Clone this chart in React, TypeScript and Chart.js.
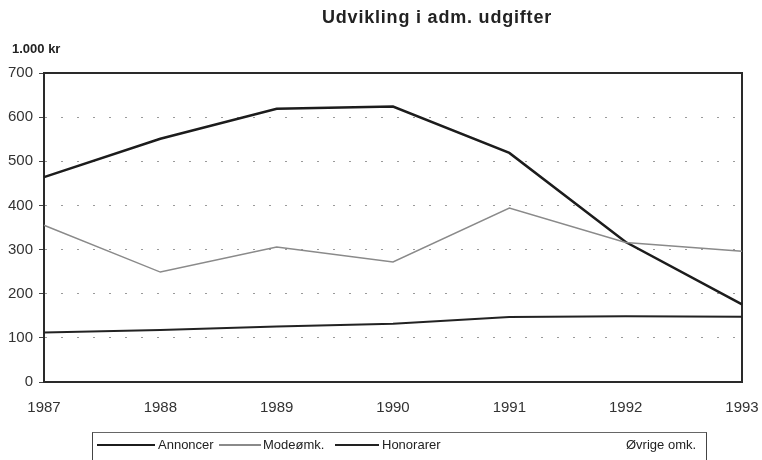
import React, { useEffect, useRef } from "react";
import { Chart, registerables } from "chart.js";

Chart.register(...registerables);

const years = ["1987", "1988", "1989", "1990", "1991", "1992", "1993"];
const annoncer = [464, 551, 619, 624, 519, 317, 176];
const modeomk = [355, 249, 306, 272, 394, 316, 296];
const honorarer = [112, 118, 126, 132, 147, 149, 148];
const ovrige = [0, 0, 0, 0, 0, 0, 0];
const seriesNames = ["Annoncer", "Modeømk.", "Honorarer", "Øvrige omk."];
const titleText = "Udvikling i adm. udgifter";
const unitText = "1.000 kr";
const yMin = 0;
const yMax = 700;
const yStep = 100;

const FONT = "'Liberation Sans', Arial, Helvetica, sans-serif";

const framePlugin = {
  id: "frame",
  beforeDatasetsDraw(chart: any) {
    const { ctx, chartArea } = chart;
    ctx.save();
    ctx.strokeStyle = "#2a2a2a";
    ctx.lineWidth = 2;
    ctx.beginPath();
    ctx.moveTo(chartArea.left, chartArea.top);
    ctx.lineTo(chartArea.right, chartArea.top);
    ctx.lineTo(chartArea.right, chartArea.bottom);
    ctx.stroke();
    ctx.restore();
  },
};

export default function App() {
  const ref = useRef<HTMLCanvasElement | null>(null);

  useEffect(() => {
    if (!ref.current) return;
    const chart = new Chart(ref.current, {
      type: "line",
      data: {
        labels: years,
        datasets: [
          {
            label: seriesNames[3],
            data: ovrige,
            borderColor: "rgba(0,0,0,0)",
            borderWidth: 1,
            pointRadius: 0,
          },
          {
            label: seriesNames[2],
            data: honorarer,
            borderColor: "#222222",
            borderWidth: 2,
            pointRadius: 0,
            tension: 0,
          },
          {
            label: seriesNames[1],
            data: modeomk,
            borderColor: "#8a8a8a",
            borderWidth: 1.5,
            pointRadius: 0,
            tension: 0,
          },
          {
            label: seriesNames[0],
            data: annoncer,
            borderColor: "#1c1c1c",
            borderWidth: 2.5,
            pointRadius: 0,
            tension: 0,
          },
        ],
      },
      options: {
        animation: false,
        responsive: false,
        devicePixelRatio: 1,
        layout: { padding: { left: 0, right: 20, top: 73, bottom: 48 } },
        plugins: {
          legend: { display: false },
          title: { display: false },
          tooltip: { enabled: false },
        },
        scales: {
          x: {
            type: "category",
            offset: false,
            grid: { display: false, drawTicks: false },
            border: { display: true, color: "#2a2a2a", width: 2 },
            ticks: {
              color: "#333",
              font: { family: FONT, size: 15 },
              padding: 17,
              maxRotation: 0,
              autoSkip: false,
            },
            afterFit: (s: any) => {
              s.height = 30;
              s.paddingLeft = 0;
              s.paddingRight = 0;
            },
          },
          y: {
            min: yMin,
            max: yMax,
            grid: {
              color: (c: any) =>
                c.tick && (c.tick.value === yMin || c.tick.value === yMax)
                  ? "rgba(0,0,0,0)"
                  : "#9a9a9a",
              lineWidth: 1,
              tickLength: 5,
              tickColor: "#444",
              drawTicks: true,
            },
            border: { display: true, color: "#2a2a2a", width: 2, dash: [2, 14] },
            ticks: {
              stepSize: yStep,
              color: "#333",
              font: { family: FONT, size: 15 },
              padding: 6,
            },
            afterFit: (s: any) => {
              s.width = 44;
            },
          },
        },
      },
      plugins: [framePlugin],
    });
    return () => chart.destroy();
  }, []);

  const legendText: React.CSSProperties = {
    position: "absolute",
    top: 4,
    fontFamily: FONT,
    fontSize: 13,
    color: "#222",
    lineHeight: "16px",
    whiteSpace: "nowrap",
  };
  const legendLine = (left: number, width: number, h: number, color: string): React.CSSProperties => ({
    position: "absolute",
    left,
    width,
    top: 12 - h / 2,
    height: h,
    background: color,
  });

  return (
    <div
      style={{
        position: "fixed",
        left: 0,
        top: 0,
        width: 762,
        height: 460,
        overflow: "hidden",
        background: "#fff",
      }}
    >
      <canvas ref={ref} width={762} height={460} style={{ display: "block", width: 762, height: 460 }} />
      <div
        style={{
          position: "absolute",
          left: 437,
          top: 8,
          transform: "translateX(-50%)",
          fontFamily: FONT,
          fontWeight: "bold",
          fontSize: 18,
          lineHeight: "18px",
          color: "#222",
          whiteSpace: "nowrap",
          letterSpacing: "0.8px",
        }}
      >
        {titleText}
      </div>
      <div
        style={{
          position: "absolute",
          left: 12,
          top: 42,
          fontFamily: FONT,
          fontWeight: "bold",
          fontSize: 13,
          lineHeight: "13px",
          color: "#222",
          whiteSpace: "nowrap",
        }}
      >
        {unitText}
      </div>
      <div
        style={{
          position: "absolute",
          left: 92,
          top: 432,
          width: 613,
          height: 40,
          borderTop: "1px solid #666",
          borderLeft: "1.5px solid #444",
          borderRight: "1.5px solid #444",
        }}
      >
        <div style={legendLine(4, 58, 2.5, "#1c1c1c")} />
        <div style={{ ...legendText, left: 65 }}>{seriesNames[0]}</div>
        <div style={legendLine(126, 42, 1.5, "#8a8a8a")} />
        <div style={{ ...legendText, left: 170 }}>{seriesNames[1]}</div>
        <div style={legendLine(242, 44, 2.5, "#222")} />
        <div style={{ ...legendText, left: 289 }}>{seriesNames[2]}</div>
        <div style={legendLine(480, 44, 1, "rgba(0,0,0,0)")} />
        <div style={{ ...legendText, left: 533 }}>{seriesNames[3]}</div>
      </div>
    </div>
  );
}
